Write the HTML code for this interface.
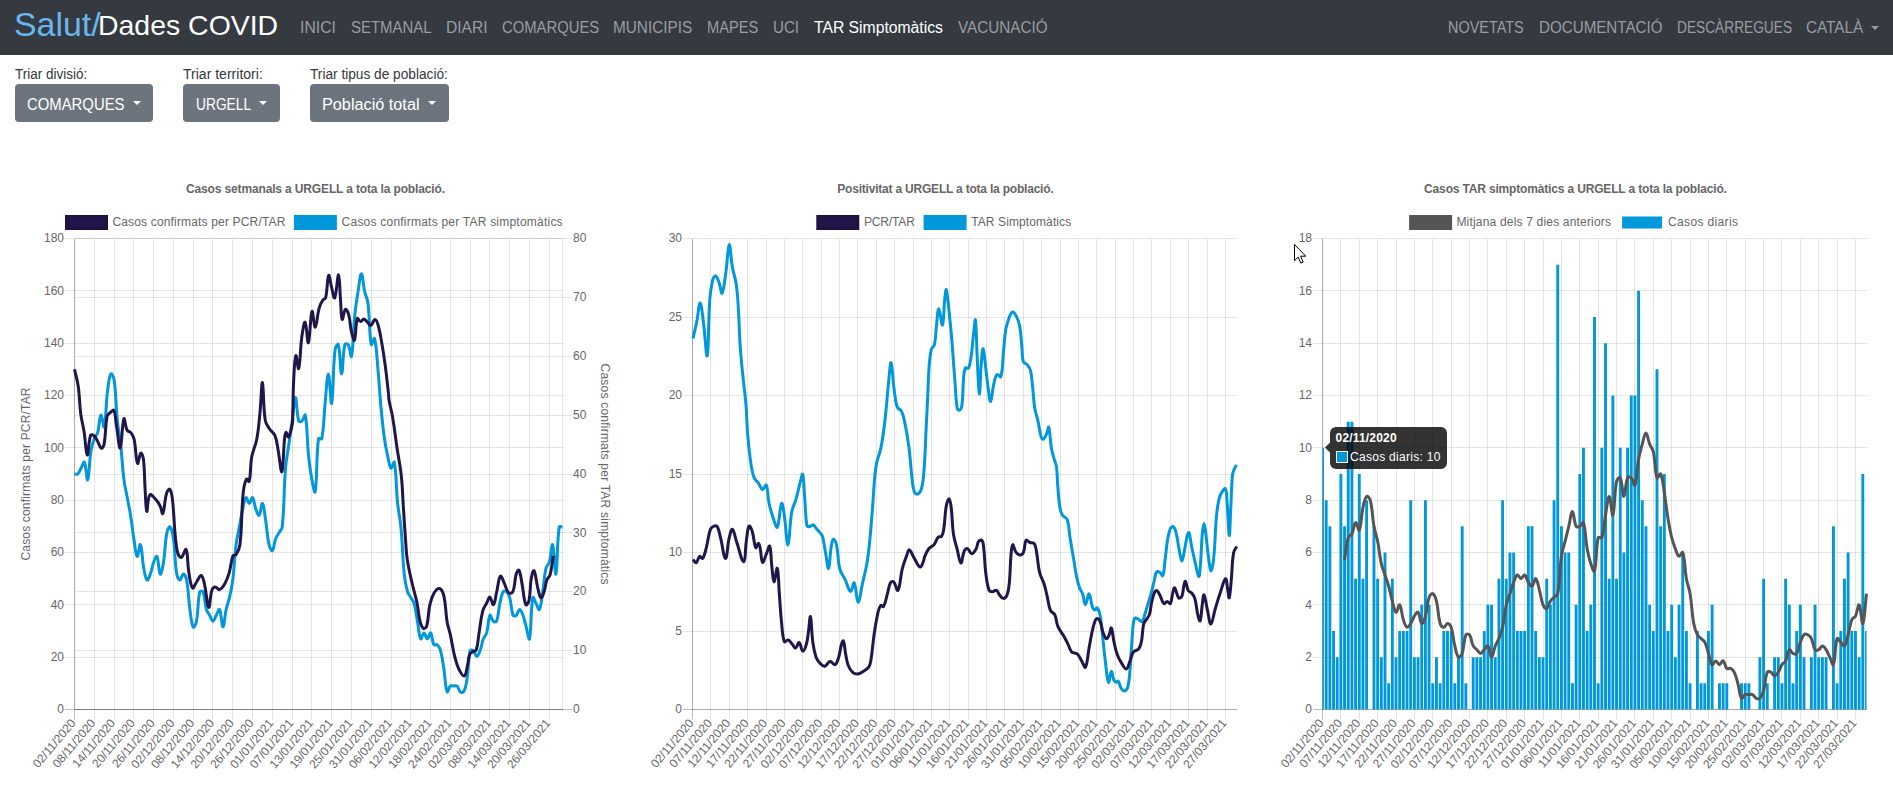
<!DOCTYPE html>
<html lang="ca"><head><meta charset="utf-8"><title>Dades COVID - TAR Simptomàtics</title>
<style>
html,body{margin:0;padding:0;background:#fff;}
body{width:1893px;height:789px;position:relative;overflow:hidden;font-family:"Liberation Sans",Arial,sans-serif;}
#nav{position:absolute;left:0;top:0;width:1893px;height:55px;background:#343a40;}
span{position:absolute;white-space:nowrap;line-height:1;transform-origin:0 0;}
.btn{position:absolute;top:84px;height:38px;background:#6c757d;border-radius:4px;}
.caret{position:absolute;width:0;height:0;border-left:4px solid transparent;border-right:4px solid transparent;border-top:4px solid #fff;}
</style></head><body>
<div id="nav"></div>
<div class="btn" style="left:15px;width:138px"></div>
<div class="btn" style="left:183px;width:97px"></div>
<div class="btn" style="left:310px;width:139px"></div>
<div class="caret" style="left:132.5px;top:101px"></div>
<div class="caret" style="left:259px;top:101px"></div>
<div class="caret" style="left:428px;top:101px"></div>
<div class="caret" style="left:1870.5px;top:26px;border-top-color:#9a9da0"></div>
<span id="t0" style="left:14.26px;top:6.62px;font-size:34px;color:#6ab5f0;transform:scaleX(0.9957)">Salut/</span>
<span id="t1" style="left:97.92px;top:11.7px;font-size:28px;color:#ffffff;transform:scaleX(1.0155)">Dades COVID</span>
<span id="t2" style="left:300.24px;top:19.96px;font-size:16px;color:#9a9da0;transform:scaleX(0.9854)">INICI</span>
<span id="t3" style="left:350.94px;top:19.96px;font-size:16px;color:#9a9da0;transform:scaleX(0.9336)">SETMANAL</span>
<span id="t4" style="left:446.24px;top:19.96px;font-size:16px;color:#9a9da0;transform:scaleX(0.9730)">DIARI</span>
<span id="t5" style="left:501.94px;top:19.96px;font-size:16px;color:#9a9da0;transform:scaleX(0.9267)">COMARQUES</span>
<span id="t6" style="left:613.34px;top:19.96px;font-size:16px;color:#9a9da0;transform:scaleX(0.9582)">MUNICIPIS</span>
<span id="t7" style="left:707.14px;top:19.96px;font-size:16px;color:#9a9da0;transform:scaleX(0.9126)">MAPES</span>
<span id="t8" style="left:773.44px;top:19.96px;font-size:16px;color:#9a9da0;transform:scaleX(0.9440)">UCI</span>
<span id="t9" style="left:814.04px;top:19.96px;font-size:16px;color:#ffffff;transform:scaleX(0.9820)">TAR Simptomàtics</span>
<span id="t10" style="left:957.54px;top:19.96px;font-size:16px;color:#9a9da0;transform:scaleX(0.9530)">VACUNACIÓ</span>
<span id="t11" style="left:1448.24px;top:19.96px;font-size:16px;color:#9a9da0;transform:scaleX(0.9017)">NOVETATS</span>
<span id="t12" style="left:1538.84px;top:19.96px;font-size:16px;color:#9a9da0;transform:scaleX(0.9474)">DOCUMENTACIÓ</span>
<span id="t13" style="left:1676.84px;top:19.96px;font-size:16px;color:#9a9da0;transform:scaleX(0.8568)">DESCÀRREGUES</span>
<span id="t14" style="left:1806.34px;top:19.96px;font-size:16px;color:#9a9da0;transform:scaleX(0.9557)">CATALÀ</span>
<span id="t15" style="left:14.86px;top:66.75px;font-size:14px;color:#33383d;transform:scaleX(0.9632)">Triar divisió:</span>
<span id="t16" style="left:182.96px;top:66.75px;font-size:14px;color:#33383d;transform:scaleX(1.0023)">Triar territori:</span>
<span id="t17" style="left:309.76px;top:66.75px;font-size:14px;color:#33383d;transform:scaleX(0.9771)">Triar tipus de població:</span>
<span id="t18" style="left:26.94px;top:96.76px;font-size:16px;color:#ffffff;transform:scaleX(0.9296)">COMARQUES</span>
<span id="t19" style="left:195.54px;top:96.76px;font-size:16px;color:#ffffff;transform:scaleX(0.8608)">URGELL</span>
<span id="t20" style="left:322.34px;top:96.76px;font-size:16px;color:#ffffff;transform:scaleX(1.0152)">Població total</span>
<svg width="1893" height="789" viewBox="0 0 1893 789" style="position:absolute;left:0;top:0" font-family="'Liberation Sans', Arial, sans-serif"><text x="315.5" y="192.7" text-anchor="middle" font-size="12" font-weight="bold" fill="#666666" textLength="259" lengthAdjust="spacing">Casos setmanals a URGELL a tota la població.</text>
<rect x="66.5" y="216.5" width="40" height="12" fill="#22154a" stroke="#1d1340" stroke-width="3"/>
<text x="112.4" y="226" text-anchor="start" font-size="12" fill="#666666" textLength="173" lengthAdjust="spacing">Casos confirmats per PCR/TAR</text>
<rect x="295.4" y="216.5" width="40" height="12" fill="#0098db" stroke="#0098db" stroke-width="3"/>
<text x="341.6" y="226" text-anchor="start" font-size="12" fill="#666666" textLength="221" lengthAdjust="spacing">Casos confirmats per TAR simptomàtics</text>
<text x="64" y="242.2" text-anchor="end" font-size="12" fill="#666666">180</text>
<text x="64" y="294.53" text-anchor="end" font-size="12" fill="#666666">160</text>
<text x="64" y="346.87" text-anchor="end" font-size="12" fill="#666666">140</text>
<text x="64" y="399.2" text-anchor="end" font-size="12" fill="#666666">120</text>
<text x="64" y="451.53" text-anchor="end" font-size="12" fill="#666666">100</text>
<text x="64" y="503.87" text-anchor="end" font-size="12" fill="#666666">80</text>
<text x="64" y="556.2" text-anchor="end" font-size="12" fill="#666666">60</text>
<text x="64" y="608.53" text-anchor="end" font-size="12" fill="#666666">40</text>
<text x="64" y="660.87" text-anchor="end" font-size="12" fill="#666666">20</text>
<text x="64" y="713.2" text-anchor="end" font-size="12" fill="#666666">0</text>
<text x="573" y="242.2" text-anchor="start" font-size="12" fill="#666666">80</text>
<text x="573" y="301.07" text-anchor="start" font-size="12" fill="#666666">70</text>
<text x="573" y="359.95" text-anchor="start" font-size="12" fill="#666666">60</text>
<text x="573" y="418.82" text-anchor="start" font-size="12" fill="#666666">50</text>
<text x="573" y="477.7" text-anchor="start" font-size="12" fill="#666666">40</text>
<text x="573" y="536.58" text-anchor="start" font-size="12" fill="#666666">30</text>
<text x="573" y="595.45" text-anchor="start" font-size="12" fill="#666666">20</text>
<text x="573" y="654.33" text-anchor="start" font-size="12" fill="#666666">10</text>
<text x="573" y="713.2" text-anchor="start" font-size="12" fill="#666666">0</text>
<text transform="translate(73,720.5) rotate(-50)" text-anchor="end" font-size="12" fill="#666666" dy="4.3">02/11/2020</text>
<text transform="translate(92.78,720.5) rotate(-50)" text-anchor="end" font-size="12" fill="#666666" dy="4.3">08/11/2020</text>
<text transform="translate(112.57,720.5) rotate(-50)" text-anchor="end" font-size="12" fill="#666666" dy="4.3">14/11/2020</text>
<text transform="translate(132.35,720.5) rotate(-50)" text-anchor="end" font-size="12" fill="#666666" dy="4.3">20/11/2020</text>
<text transform="translate(152.14,720.5) rotate(-50)" text-anchor="end" font-size="12" fill="#666666" dy="4.3">26/11/2020</text>
<text transform="translate(171.92,720.5) rotate(-50)" text-anchor="end" font-size="12" fill="#666666" dy="4.3">02/12/2020</text>
<text transform="translate(191.7,720.5) rotate(-50)" text-anchor="end" font-size="12" fill="#666666" dy="4.3">08/12/2020</text>
<text transform="translate(211.49,720.5) rotate(-50)" text-anchor="end" font-size="12" fill="#666666" dy="4.3">14/12/2020</text>
<text transform="translate(231.27,720.5) rotate(-50)" text-anchor="end" font-size="12" fill="#666666" dy="4.3">20/12/2020</text>
<text transform="translate(251.05,720.5) rotate(-50)" text-anchor="end" font-size="12" fill="#666666" dy="4.3">26/12/2020</text>
<text transform="translate(270.84,720.5) rotate(-50)" text-anchor="end" font-size="12" fill="#666666" dy="4.3">01/01/2021</text>
<text transform="translate(290.62,720.5) rotate(-50)" text-anchor="end" font-size="12" fill="#666666" dy="4.3">07/01/2021</text>
<text transform="translate(310.41,720.5) rotate(-50)" text-anchor="end" font-size="12" fill="#666666" dy="4.3">13/01/2021</text>
<text transform="translate(330.19,720.5) rotate(-50)" text-anchor="end" font-size="12" fill="#666666" dy="4.3">19/01/2021</text>
<text transform="translate(349.97,720.5) rotate(-50)" text-anchor="end" font-size="12" fill="#666666" dy="4.3">25/01/2021</text>
<text transform="translate(369.76,720.5) rotate(-50)" text-anchor="end" font-size="12" fill="#666666" dy="4.3">31/01/2021</text>
<text transform="translate(389.54,720.5) rotate(-50)" text-anchor="end" font-size="12" fill="#666666" dy="4.3">06/02/2021</text>
<text transform="translate(409.32,720.5) rotate(-50)" text-anchor="end" font-size="12" fill="#666666" dy="4.3">12/02/2021</text>
<text transform="translate(429.11,720.5) rotate(-50)" text-anchor="end" font-size="12" fill="#666666" dy="4.3">18/02/2021</text>
<text transform="translate(448.89,720.5) rotate(-50)" text-anchor="end" font-size="12" fill="#666666" dy="4.3">24/02/2021</text>
<text transform="translate(468.68,720.5) rotate(-50)" text-anchor="end" font-size="12" fill="#666666" dy="4.3">02/03/2021</text>
<text transform="translate(488.46,720.5) rotate(-50)" text-anchor="end" font-size="12" fill="#666666" dy="4.3">08/03/2021</text>
<text transform="translate(508.24,720.5) rotate(-50)" text-anchor="end" font-size="12" fill="#666666" dy="4.3">14/03/2021</text>
<text transform="translate(528.03,720.5) rotate(-50)" text-anchor="end" font-size="12" fill="#666666" dy="4.3">20/03/2021</text>
<text transform="translate(547.81,720.5) rotate(-50)" text-anchor="end" font-size="12" fill="#666666" dy="4.3">26/03/2021</text>
<g fill="none" stroke-width="1" shape-rendering="crispEdges"><path d="M64.5,238.5H562.5" stroke="rgba(0,0,0,0.1)"/><path d="M64.5,290.83H562.5" stroke="rgba(0,0,0,0.1)"/><path d="M64.5,343.17H562.5" stroke="rgba(0,0,0,0.1)"/><path d="M64.5,395.5H562.5" stroke="rgba(0,0,0,0.1)"/><path d="M64.5,447.83H562.5" stroke="rgba(0,0,0,0.1)"/><path d="M64.5,500.17H562.5" stroke="rgba(0,0,0,0.1)"/><path d="M64.5,552.5H562.5" stroke="rgba(0,0,0,0.1)"/><path d="M64.5,604.83H562.5" stroke="rgba(0,0,0,0.1)"/><path d="M64.5,657.17H562.5" stroke="rgba(0,0,0,0.1)"/><path d="M64.5,709.5H562.5" stroke="rgba(0,0,0,0.25)"/><path d="M74.5,238.5H571.5" stroke="rgba(0,0,0,0.1)"/><path d="M74.5,297.38H571.5" stroke="rgba(0,0,0,0.1)"/><path d="M74.5,356.25H571.5" stroke="rgba(0,0,0,0.1)"/><path d="M74.5,415.12H571.5" stroke="rgba(0,0,0,0.1)"/><path d="M74.5,474H571.5" stroke="rgba(0,0,0,0.1)"/><path d="M74.5,532.88H571.5" stroke="rgba(0,0,0,0.1)"/><path d="M74.5,591.75H571.5" stroke="rgba(0,0,0,0.1)"/><path d="M74.5,650.62H571.5" stroke="rgba(0,0,0,0.1)"/><path d="M74.5,709.5H571.5" stroke="rgba(0,0,0,0.25)"/><path d="M74.5,238.5V719.5" stroke="rgba(0,0,0,0.25)"/><path d="M94.28,238.5V719.5" stroke="rgba(0,0,0,0.1)"/><path d="M114.07,238.5V719.5" stroke="rgba(0,0,0,0.1)"/><path d="M133.85,238.5V719.5" stroke="rgba(0,0,0,0.1)"/><path d="M153.64,238.5V719.5" stroke="rgba(0,0,0,0.1)"/><path d="M173.42,238.5V719.5" stroke="rgba(0,0,0,0.1)"/><path d="M193.2,238.5V719.5" stroke="rgba(0,0,0,0.1)"/><path d="M212.99,238.5V719.5" stroke="rgba(0,0,0,0.1)"/><path d="M232.77,238.5V719.5" stroke="rgba(0,0,0,0.1)"/><path d="M252.55,238.5V719.5" stroke="rgba(0,0,0,0.1)"/><path d="M272.34,238.5V719.5" stroke="rgba(0,0,0,0.1)"/><path d="M292.12,238.5V719.5" stroke="rgba(0,0,0,0.1)"/><path d="M311.91,238.5V719.5" stroke="rgba(0,0,0,0.1)"/><path d="M331.69,238.5V719.5" stroke="rgba(0,0,0,0.1)"/><path d="M351.47,238.5V719.5" stroke="rgba(0,0,0,0.1)"/><path d="M371.26,238.5V719.5" stroke="rgba(0,0,0,0.1)"/><path d="M391.04,238.5V719.5" stroke="rgba(0,0,0,0.1)"/><path d="M410.82,238.5V719.5" stroke="rgba(0,0,0,0.1)"/><path d="M430.61,238.5V719.5" stroke="rgba(0,0,0,0.1)"/><path d="M450.39,238.5V719.5" stroke="rgba(0,0,0,0.1)"/><path d="M470.18,238.5V719.5" stroke="rgba(0,0,0,0.1)"/><path d="M489.96,238.5V719.5" stroke="rgba(0,0,0,0.1)"/><path d="M509.74,238.5V719.5" stroke="rgba(0,0,0,0.1)"/><path d="M529.53,238.5V719.5" stroke="rgba(0,0,0,0.1)"/><path d="M549.31,238.5V719.5" stroke="rgba(0,0,0,0.1)"/><path d="M74.5,238.5V709.5" stroke="rgba(0,0,0,0.1)"/><path d="M74.5,709.5H562.5" stroke="rgba(0,0,0,0.1)"/><path d="M562.5,238.5V709.5" stroke="rgba(0,0,0,0.1)"/></g>
<text transform="translate(26,474) rotate(-90)" text-anchor="middle" font-size="12" fill="#666666" dy="4.3" textLength="173" lengthAdjust="spacing">Casos confirmats per PCR/TAR</text>
<text transform="translate(605.7,474) rotate(90)" text-anchor="middle" font-size="12" fill="#666666" dy="4.3" textLength="221" lengthAdjust="spacing">Casos confirmats per TAR simptomàtics</text>
<path d="M74.5,474C75.82,474 76.93,474.77 77.8,474C79.57,472.42 79.78,470.47 81.09,468.11C82.41,465.76 83.67,460.94 84.39,462.23C86.31,465.65 86.69,481.67 87.69,479.89C89.33,476.96 89.12,462.12 90.99,450.45C91.76,445.63 92.58,443.23 94.28,438.68C95.22,436.16 96.86,435.36 97.58,432.79C99.5,425.94 99.31,416.53 100.88,415.12C101.95,414.17 103.5,429.31 104.18,426.9C106.14,419.89 105.72,405.64 107.47,391.57C108.36,384.45 108.85,377.34 110.77,373.91C111.49,372.63 113.7,377.16 114.07,379.8C116.34,396 115.69,404.57 117.36,421.01C118.33,430.47 119.6,435.11 120.66,444.56C122.24,458.66 122.21,465.82 123.96,479.89C124.85,487.01 125.94,490.48 127.26,497.55C128.58,504.61 129.42,508.12 130.55,515.21C132.06,524.6 132.35,529.37 133.85,538.76C134.99,545.86 135.58,555.02 137.15,556.42C138.22,557.38 139.55,543.05 140.45,544.65C142.19,547.76 142,558.87 143.74,568.2C144.64,573 145.34,578.46 147.04,579.98C147.98,580.81 149.4,576.6 150.34,574.09C152.04,569.53 151.94,566.87 153.64,562.31C154.57,559.8 156.21,555.14 156.93,556.42C158.85,559.85 158.66,572.69 160.23,574.09C161.3,575.04 162.76,567.13 163.53,562.31C165.39,550.64 164.68,544.38 166.82,532.88C167.31,530.25 169.18,526.15 170.12,526.99C171.82,528.51 172.74,533.93 173.42,538.76C175.38,552.77 174.5,560.24 176.72,574.09C177.14,576.72 178.69,579.98 180.01,579.98C181.33,579.98 181.99,574.09 183.31,574.09C184.63,574.09 186.12,577.35 186.61,579.98C188.76,591.48 188.26,597.69 189.91,609.41C190.9,616.53 191.29,623.65 193.2,627.08C193.92,628.36 196.01,623.81 196.5,621.19C198.65,609.68 197.42,602.35 199.8,591.75C200.06,590.57 202.69,590.65 203.09,591.75C205.32,597.72 204.47,602.56 206.39,609.41C207.11,611.98 208.37,612.94 209.69,615.3C211.01,617.65 211.67,621.19 212.99,621.19C214.31,621.19 214.96,617.65 216.28,615.3C217.6,612.94 218.86,608.13 219.58,609.41C221.5,612.84 221.56,627.08 222.88,627.08C224.2,627.08 224.61,616.42 226.18,609.41C227.24,604.64 228.4,602.41 229.47,597.64C231.04,590.63 231.88,587.1 232.77,579.98C234.52,565.91 234.32,558.72 236.07,544.65C236.95,537.52 238.05,534.05 239.36,526.99C240.68,519.92 241.09,516.33 242.66,509.32C243.73,504.56 244.26,499.07 245.96,497.55C246.9,496.71 247.94,503.44 249.26,503.44C250.58,503.44 251.62,496.71 252.55,497.55C254.25,499.07 254.15,504.77 255.85,509.32C256.79,511.84 258.21,516.05 259.15,515.21C260.85,513.69 261.38,502.48 262.45,503.44C264.02,504.84 264.61,514.01 265.74,521.1C267.25,530.49 266.99,535.48 269.04,544.65C269.62,547.25 271.4,551.37 272.34,550.54C274.04,549.02 273.94,543.32 275.64,538.76C276.57,536.25 277.61,535.23 278.93,532.88C280.25,530.52 281.96,529.65 282.23,526.99C284.6,503.74 283.65,491.61 285.53,468.11C286.29,458.64 287.51,453.98 288.82,444.56C290.14,435.14 290.8,430.43 292.12,421.01C293.44,411.59 294.1,397.46 295.42,397.46C296.74,397.46 296.4,412.74 298.72,421.01C299.04,422.16 301.15,421.79 302.01,421.01C303.79,419.43 304.94,413.14 305.31,415.12C307.58,427.27 306.93,439.89 308.61,456.34C309.57,465.8 310.16,470.56 311.91,479.89C312.8,484.69 314.71,494.75 315.2,491.66C317.35,478.26 316.02,458.63 318.5,438.68C318.65,437.44 321.57,439.88 321.8,438.68C324.21,425.75 323.66,417.47 325.09,403.35C326.29,391.56 327.07,373.91 328.39,373.91C329.71,373.91 330.74,406.72 331.69,403.35C333.38,397.3 332.65,371.26 334.99,350.36C335.28,347.71 337.79,342.73 338.28,344.47C340.43,352.15 340.26,373.91 341.58,373.91C342.9,373.91 342.5,355.07 344.88,344.47C345.14,343.3 347.62,343.47 348.18,344.47C350.25,348.18 350.87,358.94 351.47,356.25C353.51,347.16 353.1,331.48 354.77,315.04C355.73,305.58 356.57,300.88 358.07,291.49C359.2,284.39 360.05,273.82 361.36,273.82C362.68,273.82 363.09,284.48 364.66,291.49C365.73,296.26 367.36,298.42 367.96,303.26C370,319.62 368.99,332.33 371.26,344.47C371.63,346.46 374.06,336.84 374.55,338.59C376.7,346.26 376.75,356.23 377.85,368.02C379.39,384.49 379.61,392.77 381.15,409.24C382.25,421.03 382.8,426.95 384.45,438.68C385.44,445.79 386.17,449.33 387.74,456.34C388.81,461.11 389.34,466.59 391.04,468.11C391.98,468.95 393.97,460.24 394.34,462.23C396.61,474.37 395.96,486.99 397.64,503.44C398.6,512.9 400.05,517.52 400.93,526.99C402.69,545.78 402.32,555.32 404.23,574.09C404.96,581.23 405.61,584.9 407.53,591.75C408.25,594.32 409.51,595.28 410.82,597.64C412.14,599.99 413.4,600.95 414.12,603.52C416.04,610.37 416.1,614.12 417.42,621.19C418.74,628.25 418.8,635.43 420.72,638.85C421.44,640.14 422.69,632.96 424.01,632.96C425.33,632.96 425.99,638.85 427.31,638.85C428.63,638.85 429.67,632.13 430.61,632.96C432.31,634.48 431.83,641.03 433.91,644.74C434.47,645.74 436.34,643.96 437.2,644.74C438.97,646.32 439.78,648.05 440.5,650.62C442.42,657.47 442.66,661.19 443.8,668.29C445.3,677.68 445.04,686.33 447.09,691.84C447.68,693.4 448.62,687.53 450.39,685.95C451.26,685.18 452.37,685.95 453.69,685.95C455.01,685.95 456.12,685.18 456.99,685.95C458.76,687.53 458.51,690.26 460.28,691.84C461.15,692.61 463.02,692.84 463.58,691.84C465.66,688.13 466.11,684.88 466.88,680.06C468.75,668.39 467.8,661.22 470.18,650.62C470.44,649.45 472.61,649.85 473.47,650.62C475.24,652.21 475.45,656.51 476.77,656.51C478.09,656.51 479.13,653.14 480.07,650.62C481.77,646.07 481.67,643.4 483.36,638.85C484.3,636.34 485.94,635.53 486.66,632.96C488.58,626.11 488.04,618.72 489.96,615.3C490.68,614.01 491.48,619.61 493.26,621.19C494.12,621.96 496.15,622.28 496.55,621.19C498.78,615.22 498.28,610.53 499.85,603.52C500.92,598.76 501.07,595.46 503.15,591.75C503.71,590.75 505.58,590.98 506.45,591.75C508.22,593.33 509.02,595.07 509.74,597.64C511.66,604.49 510.81,609.33 513.04,615.3C513.45,616.4 515.47,616.07 516.34,615.3C518.11,613.72 518.32,609.41 519.64,609.41C520.95,609.41 521.99,612.79 522.93,615.3C524.63,619.85 524.91,622.37 526.23,627.08C527.55,631.79 528.92,641.54 529.53,638.85C531.56,629.76 530.56,609.78 532.82,597.64C533.19,595.65 534.8,601.17 536.12,603.52C537.44,605.88 538.7,610.7 539.42,609.41C541.34,605.99 541.58,598.84 542.72,591.75C544.22,582.36 543.96,577.37 546.01,568.2C546.6,565.6 548.59,564.88 549.31,562.31C551.23,555.46 551.61,542.87 552.61,544.65C554.25,547.58 554.89,576.81 555.91,574.09C557.53,569.75 556.74,544.6 559.2,526.99C559.37,525.76 561.18,526.99 562.5,526.99" fill="none" stroke="#0098db" stroke-width="3" stroke-linejoin="miter"/>
<path d="M74.5,369.45C75.98,376.09 77.25,379.32 78.19,386.05C79.76,397.17 79.34,402.92 80.78,414.07C81.67,421.02 82.92,424.38 84.01,431.31C85.5,440.77 85.83,454.08 87.25,455.03C88.41,455.8 88.37,442.56 90.48,435.63C90.78,434.63 92.45,434.64 93.28,435.2C95.04,436.37 95.69,437.9 96.95,439.94C98.88,443.08 99.38,446.99 101.26,448.13C102.23,448.72 103.72,446.1 104.06,444.25C106.05,433.34 105.06,427.08 107.08,416.23C107.38,414.58 108.6,414.11 109.88,412.99C111.27,411.78 113.14,409.26 113.76,410.41C115.72,414 115.35,419.06 116.35,424.85C117.94,434.15 118.89,449.2 120.23,448.13C121.9,446.79 121.92,423.92 123.89,418.81C124.68,416.76 125.11,426.2 127.12,430.24C127.87,431.72 129.73,431.29 130.79,432.61C132.49,434.74 133.42,436.14 134.02,438.86C136.13,448.44 135.65,459.34 137.54,463.36C138.36,465.09 139.29,454.45 140.78,453.23C141.62,452.55 143.08,456.27 143.36,458.62C144.8,470.5 144.3,476.74 145.09,488.8C145.68,497.86 145.73,510.05 146.81,511.44C147.62,512.46 147.34,498.1 149.83,494.84C150.96,493.35 153.81,497.35 155.87,499.58C157.95,501.84 158.82,503.28 160.18,506.05C161.58,508.89 162.05,515.02 162.77,513.59C164.64,509.85 164.36,500.96 166.65,493.11C167.2,491.21 169.13,488.4 169.88,489.23C171.46,490.99 171.98,495.35 172.47,499.58C174.14,514.15 173.81,521.61 175.27,536.23C175.96,543.16 175.99,546.96 177.86,553.47C178.41,555.41 180.11,557.91 181.3,557.35C183.39,556.36 185.17,547.99 186.05,549.59C188.1,553.34 187.22,562.33 188.63,570.72C189.81,577.68 190.24,584.97 192.51,587.96C193.51,589.28 195.06,584.05 196.82,581.49C198.51,579.05 199.76,575.06 201.14,575.46C202.77,575.93 203.56,580.23 204.37,583.65C206.58,593 206.93,605.86 208.68,607.36C209.95,608.45 209.86,596.61 211.91,590.12C212.45,588.42 213.73,586.96 215.15,586.88C216.75,586.79 217.95,590.19 219.46,589.69C221.83,588.89 223.25,586.41 224.85,583.65C227.13,579.69 227.86,577.31 229.16,572.87C231.14,566.11 230.7,561.78 233.04,555.63C233.46,554.53 235.43,555.75 236.06,554.76C238.19,551.43 239.45,549.05 239.94,544.85C242.3,524.39 241.15,513.7 243.17,493.11C243.73,487.4 244.47,482.91 246.4,479.1C246.88,478.17 248.94,482.38 249.21,481.26C251.05,473.54 249.97,466.57 251.69,457C252.95,449.97 255.31,446.79 256.65,439.76C258.59,429.54 258.82,424.26 259.88,413.89C261.15,401.41 261.49,381.46 262.47,382.63C263.64,384.05 263,405.58 265.27,420.36C265.85,424.12 267.51,425.76 269.58,428.98C271.39,431.79 273.75,432.4 274.97,435.45C277.2,441.03 277.05,444.47 278.2,450.54C279.81,458.96 280.87,473.66 281.87,471.66C283.46,468.48 283.19,451.16 284.67,437.6C284.91,435.38 285.39,432.3 286.18,432.21C286.95,432.13 287.83,438.07 288.55,437.17C290.25,435.05 291.01,429.72 292.21,424.67C292.64,422.88 292.57,421.92 292.63,420.08C293.17,403.79 292.9,395.61 293.71,379.34C294.19,369.83 294.59,358.4 295.87,355.63C296.58,354.09 297.97,370.81 298.67,368.56C300.39,363.05 300.11,349.08 301.9,336.23C302.7,330.54 304.08,321.15 305.14,322.21C306.66,323.74 307.27,344.4 308.37,342.69C310.03,340.09 310.21,315.55 312.03,311.44C312.97,309.34 313.98,327.76 315.27,327.17C316.82,326.46 317.09,315.63 319.15,308.2C320.1,304.76 320.96,302.98 322.81,300.01C323.54,298.84 325.3,299.18 325.62,297.86C327.63,289.35 327.09,278.4 328.63,275.44C329.42,273.92 330.23,282.18 331.44,286.65C332.65,291.15 333.72,299.43 334.67,297.86C336.57,294.69 337.42,274.46 338.55,274.79C339.75,275.15 339.68,289.67 340.49,299.58C341.14,307.52 340.92,316.88 342.21,319.41C342.9,320.76 343.82,310.47 345.45,309.28C346.41,308.58 348.04,312.27 348.68,314.67C350.46,321.33 349.93,325.13 351.48,331.91C352.26,335.3 353.83,341.64 354.5,340.11C356.16,336.29 355.3,324.71 357.3,318.55C357.71,317.3 359.2,321.48 360.54,321.57C361.79,321.65 362.5,318.86 363.77,318.98C365.26,319.12 365.99,320.9 367.43,322.21C368.83,323.49 369.7,325.89 370.88,325.45C372.71,324.77 373.47,319.41 374.98,319.41C376.4,319.41 377.48,322.83 378.21,325.45C380.33,333.01 380.74,337.05 382.09,344.85C383.58,353.44 384.2,357.76 385.33,366.4C386.79,377.59 387.34,383.21 388.56,394.43C388.8,396.65 388.58,397.8 388.97,400C390.21,406.93 391.47,410.29 392.63,417.25C394.66,429.26 395.16,435.36 396.95,447.42C398.61,458.64 400.05,464.18 401.26,475.45C402.64,488.32 402.55,494.85 403.41,507.78C404.27,520.72 404.61,527.19 405.57,540.12C406.14,547.84 406.12,551.75 407.25,559.4C408.52,568.09 409.63,572.38 411.56,580.96C413.51,589.63 415.12,593.82 416.95,602.51C418.56,610.21 418.29,614.35 420.18,621.91C420.87,624.7 421.73,627.26 423.41,628.38C424.32,628.98 426.25,627.66 426.65,626.23C428.84,618.18 427.97,613.13 429.88,604.67C430.99,599.77 431.68,596.99 434.19,592.81C435.56,590.53 437.86,587.93 439.58,588.5C441.74,589.22 443.14,592.71 443.89,596.05C446.15,606.07 445.41,611.65 447.12,621.91C448,627.17 449.22,629.64 450.36,634.85C452.24,643.44 452.54,647.89 454.67,656.4C455.99,661.69 456.58,664.54 458.98,669.34C460.46,672.3 462.89,676.54 464.37,675.81C466.34,674.82 466.51,669.39 467.6,665.03C468.67,660.77 468.19,658.13 469.76,654.25C470.35,652.79 471.62,652.58 472.99,651.66C474.21,650.85 475.78,651.24 476.23,649.94C478.1,644.51 477.81,640.89 478.81,634.85C480.39,625.37 480.35,620.37 482.69,611.14C483.63,607.43 485.26,605.95 487,602.51C488.1,600.35 488.72,596.76 489.81,597.12C491.31,597.62 492.41,605.5 493.47,604.67C495.16,603.35 495.45,596.92 496.7,591.74C498.21,585.54 498.35,578.52 500.37,576.21C501.37,575.07 502.85,580.28 504.25,583.11C506.13,586.92 506.13,590.38 508.56,592.81C509.58,593.83 512.26,593.22 512.87,591.74C515.28,585.89 514.24,581.16 516.1,574.49C516.65,572.54 518.26,569.22 518.91,570.18C520.59,572.67 520.88,577.91 521.92,583.11C523.64,591.7 523.52,599.13 525.81,604.67C526.37,606.03 528.61,602.42 529.04,600.36C530.76,592.07 529.78,587.3 531.19,578.8C531.76,575.4 533.13,569.46 534,570.61C535.72,572.9 535.97,580.76 537.66,587.42C538.73,591.62 539.31,596.71 540.89,597.77C541.9,598.44 543.27,594.31 544.13,591.74C545.67,587.14 545.3,584.4 546.89,579.85C547.68,577.62 549.46,577.06 550.06,574.78C552,567.43 551.96,563.37 553.23,555.77" fill="none" stroke="#22154a" stroke-width="3"/>
<text x="945.5" y="192.7" text-anchor="middle" font-size="12" font-weight="bold" fill="#666666" textLength="216.4" lengthAdjust="spacing">Positivitat a URGELL a tota la població.</text>
<rect x="817.8" y="216.5" width="40" height="12" fill="#22154a" stroke="#1d1340" stroke-width="3"/>
<text x="863.9" y="226" text-anchor="start" font-size="12" fill="#666666" textLength="51" lengthAdjust="spacing">PCR/TAR</text>
<rect x="925.1" y="216.5" width="40" height="12" fill="#0098db" stroke="#0098db" stroke-width="3"/>
<text x="971.2" y="226" text-anchor="start" font-size="12" fill="#666666" textLength="100" lengthAdjust="spacing">TAR Simptomàtics</text>
<text x="682" y="242.2" text-anchor="end" font-size="12" fill="#666666">30</text>
<text x="682" y="320.7" text-anchor="end" font-size="12" fill="#666666">25</text>
<text x="682" y="399.2" text-anchor="end" font-size="12" fill="#666666">20</text>
<text x="682" y="477.7" text-anchor="end" font-size="12" fill="#666666">15</text>
<text x="682" y="556.2" text-anchor="end" font-size="12" fill="#666666">10</text>
<text x="682" y="634.7" text-anchor="end" font-size="12" fill="#666666">5</text>
<text x="682" y="713.2" text-anchor="end" font-size="12" fill="#666666">0</text>
<text transform="translate(691,720.5) rotate(-50)" text-anchor="end" font-size="12" fill="#666666" dy="4.3">02/11/2020</text>
<text transform="translate(709.38,720.5) rotate(-50)" text-anchor="end" font-size="12" fill="#666666" dy="4.3">07/11/2020</text>
<text transform="translate(727.76,720.5) rotate(-50)" text-anchor="end" font-size="12" fill="#666666" dy="4.3">12/11/2020</text>
<text transform="translate(746.14,720.5) rotate(-50)" text-anchor="end" font-size="12" fill="#666666" dy="4.3">17/11/2020</text>
<text transform="translate(764.51,720.5) rotate(-50)" text-anchor="end" font-size="12" fill="#666666" dy="4.3">22/11/2020</text>
<text transform="translate(782.89,720.5) rotate(-50)" text-anchor="end" font-size="12" fill="#666666" dy="4.3">27/11/2020</text>
<text transform="translate(801.27,720.5) rotate(-50)" text-anchor="end" font-size="12" fill="#666666" dy="4.3">02/12/2020</text>
<text transform="translate(819.65,720.5) rotate(-50)" text-anchor="end" font-size="12" fill="#666666" dy="4.3">07/12/2020</text>
<text transform="translate(838.03,720.5) rotate(-50)" text-anchor="end" font-size="12" fill="#666666" dy="4.3">12/12/2020</text>
<text transform="translate(856.41,720.5) rotate(-50)" text-anchor="end" font-size="12" fill="#666666" dy="4.3">17/12/2020</text>
<text transform="translate(874.78,720.5) rotate(-50)" text-anchor="end" font-size="12" fill="#666666" dy="4.3">22/12/2020</text>
<text transform="translate(893.16,720.5) rotate(-50)" text-anchor="end" font-size="12" fill="#666666" dy="4.3">27/12/2020</text>
<text transform="translate(911.54,720.5) rotate(-50)" text-anchor="end" font-size="12" fill="#666666" dy="4.3">01/01/2021</text>
<text transform="translate(929.92,720.5) rotate(-50)" text-anchor="end" font-size="12" fill="#666666" dy="4.3">06/01/2021</text>
<text transform="translate(948.3,720.5) rotate(-50)" text-anchor="end" font-size="12" fill="#666666" dy="4.3">11/01/2021</text>
<text transform="translate(966.68,720.5) rotate(-50)" text-anchor="end" font-size="12" fill="#666666" dy="4.3">16/01/2021</text>
<text transform="translate(985.05,720.5) rotate(-50)" text-anchor="end" font-size="12" fill="#666666" dy="4.3">21/01/2021</text>
<text transform="translate(1003.43,720.5) rotate(-50)" text-anchor="end" font-size="12" fill="#666666" dy="4.3">26/01/2021</text>
<text transform="translate(1021.81,720.5) rotate(-50)" text-anchor="end" font-size="12" fill="#666666" dy="4.3">31/01/2021</text>
<text transform="translate(1040.19,720.5) rotate(-50)" text-anchor="end" font-size="12" fill="#666666" dy="4.3">05/02/2021</text>
<text transform="translate(1058.57,720.5) rotate(-50)" text-anchor="end" font-size="12" fill="#666666" dy="4.3">10/02/2021</text>
<text transform="translate(1076.95,720.5) rotate(-50)" text-anchor="end" font-size="12" fill="#666666" dy="4.3">15/02/2021</text>
<text transform="translate(1095.32,720.5) rotate(-50)" text-anchor="end" font-size="12" fill="#666666" dy="4.3">20/02/2021</text>
<text transform="translate(1113.7,720.5) rotate(-50)" text-anchor="end" font-size="12" fill="#666666" dy="4.3">25/02/2021</text>
<text transform="translate(1132.08,720.5) rotate(-50)" text-anchor="end" font-size="12" fill="#666666" dy="4.3">02/03/2021</text>
<text transform="translate(1150.46,720.5) rotate(-50)" text-anchor="end" font-size="12" fill="#666666" dy="4.3">07/03/2021</text>
<text transform="translate(1168.84,720.5) rotate(-50)" text-anchor="end" font-size="12" fill="#666666" dy="4.3">12/03/2021</text>
<text transform="translate(1187.22,720.5) rotate(-50)" text-anchor="end" font-size="12" fill="#666666" dy="4.3">17/03/2021</text>
<text transform="translate(1205.59,720.5) rotate(-50)" text-anchor="end" font-size="12" fill="#666666" dy="4.3">22/03/2021</text>
<text transform="translate(1223.97,720.5) rotate(-50)" text-anchor="end" font-size="12" fill="#666666" dy="4.3">27/03/2021</text>
<g fill="none" stroke-width="1" shape-rendering="crispEdges"><path d="M682.5,238.5H1236.5" stroke="rgba(0,0,0,0.1)"/><path d="M682.5,317H1236.5" stroke="rgba(0,0,0,0.1)"/><path d="M682.5,395.5H1236.5" stroke="rgba(0,0,0,0.1)"/><path d="M682.5,474H1236.5" stroke="rgba(0,0,0,0.1)"/><path d="M682.5,552.5H1236.5" stroke="rgba(0,0,0,0.1)"/><path d="M682.5,631H1236.5" stroke="rgba(0,0,0,0.1)"/><path d="M682.5,709.5H1236.5" stroke="rgba(0,0,0,0.25)"/><path d="M692.5,238.5V719.5" stroke="rgba(0,0,0,0.25)"/><path d="M710.88,238.5V719.5" stroke="rgba(0,0,0,0.1)"/><path d="M729.26,238.5V719.5" stroke="rgba(0,0,0,0.1)"/><path d="M747.64,238.5V719.5" stroke="rgba(0,0,0,0.1)"/><path d="M766.01,238.5V719.5" stroke="rgba(0,0,0,0.1)"/><path d="M784.39,238.5V719.5" stroke="rgba(0,0,0,0.1)"/><path d="M802.77,238.5V719.5" stroke="rgba(0,0,0,0.1)"/><path d="M821.15,238.5V719.5" stroke="rgba(0,0,0,0.1)"/><path d="M839.53,238.5V719.5" stroke="rgba(0,0,0,0.1)"/><path d="M857.91,238.5V719.5" stroke="rgba(0,0,0,0.1)"/><path d="M876.28,238.5V719.5" stroke="rgba(0,0,0,0.1)"/><path d="M894.66,238.5V719.5" stroke="rgba(0,0,0,0.1)"/><path d="M913.04,238.5V719.5" stroke="rgba(0,0,0,0.1)"/><path d="M931.42,238.5V719.5" stroke="rgba(0,0,0,0.1)"/><path d="M949.8,238.5V719.5" stroke="rgba(0,0,0,0.1)"/><path d="M968.18,238.5V719.5" stroke="rgba(0,0,0,0.1)"/><path d="M986.55,238.5V719.5" stroke="rgba(0,0,0,0.1)"/><path d="M1004.93,238.5V719.5" stroke="rgba(0,0,0,0.1)"/><path d="M1023.31,238.5V719.5" stroke="rgba(0,0,0,0.1)"/><path d="M1041.69,238.5V719.5" stroke="rgba(0,0,0,0.1)"/><path d="M1060.07,238.5V719.5" stroke="rgba(0,0,0,0.1)"/><path d="M1078.45,238.5V719.5" stroke="rgba(0,0,0,0.1)"/><path d="M1096.82,238.5V719.5" stroke="rgba(0,0,0,0.1)"/><path d="M1115.2,238.5V719.5" stroke="rgba(0,0,0,0.1)"/><path d="M1133.58,238.5V719.5" stroke="rgba(0,0,0,0.1)"/><path d="M1151.96,238.5V719.5" stroke="rgba(0,0,0,0.1)"/><path d="M1170.34,238.5V719.5" stroke="rgba(0,0,0,0.1)"/><path d="M1188.72,238.5V719.5" stroke="rgba(0,0,0,0.1)"/><path d="M1207.09,238.5V719.5" stroke="rgba(0,0,0,0.1)"/><path d="M1225.47,238.5V719.5" stroke="rgba(0,0,0,0.1)"/><path d="M692.5,238.5V709.5" stroke="rgba(0,0,0,0.1)"/><path d="M692.5,709.5H1236.5" stroke="rgba(0,0,0,0.1)"/></g>
<path d="M692.98,338.47C694.53,331.57 695.47,328.16 696.86,321.23C698.32,313.93 698.8,302.9 700.09,302.9C701.38,302.9 702.33,313.85 703.32,321.23C705.18,334.98 706.21,359.01 707.2,355.72C708.8,350.39 708.19,322.03 709.79,299.67C710.35,291.86 710.76,287.75 712.59,280.27C713.08,278.26 714.53,275.6 715.61,275.96C717.12,276.46 718.04,279.69 719.06,282.42C720.62,286.59 721.14,294.66 722.08,293.2C723.9,290.35 724.69,280.31 725.96,271.65C727.53,260.91 727.79,245.64 729.19,244.7C730.37,243.91 730.82,258.34 732.42,267.33C733.66,274.29 735.33,277.59 736.3,284.58C737.74,294.84 737.81,300.09 738.46,310.45C739.27,323.37 739.16,329.86 739.97,342.78C740.62,353.14 741.12,358.32 742.12,368.65C743.54,383.23 744.77,390.48 746,405.08C746.92,415.96 746.62,421.46 747.51,432.33C748.51,444.43 749.03,450.51 750.75,462.51C751.62,468.62 751.9,471.94 753.98,477.6C754.91,480.13 756.67,480.76 758.29,482.99C760.12,485.5 760.76,488.96 762.6,489.46C763.95,489.82 765.66,483.84 766.27,485.15C768.25,489.44 767.53,496.23 769.07,503.47C770.37,509.6 771.34,512.64 773.38,518.56C774.61,522.13 776.34,528.88 777.26,527.18C779.61,522.85 779.68,507.01 781.57,503.47C782.44,501.84 783.48,509.87 784.16,514.25C786.06,526.43 786.58,545.28 788.04,544.86C789.6,544.41 789.45,525.03 791.7,512.09C792.64,506.75 794.52,504.4 796.02,499.16C797.97,492.33 798.48,488.78 800.33,481.91C801.15,478.86 802.25,472.81 802.7,474.37C803.98,478.85 803.91,487.95 804.64,497C805.54,508.21 805.22,514.19 806.79,525.03C806.95,526.09 807.98,526.75 808.95,526.75C810.57,526.75 811.82,524.56 813.26,525.03C815.01,525.6 815.43,527.64 816.92,529.34C818.45,531.08 819.38,531.83 820.81,533.65C821.61,534.68 822.2,535.2 822.51,536.47C824.18,543.22 824.44,546.82 825.75,553.71C826.86,559.58 827.66,569.44 828.55,568.37C829.82,566.85 829.78,555.63 831.14,547.25C831.68,543.91 832.1,539.53 833.29,539.05C834.26,538.67 835.95,542.44 836.53,545.09C838.54,554.34 837.46,559.63 839.76,568.8C840.91,573.42 843.08,575.23 845.15,579.58C847.39,584.28 848.43,590.68 850.54,591.44C852.05,591.98 853.23,581.43 854.2,582.81C856.25,585.74 856.4,601.99 858.08,602.21C859.68,602.42 860.78,591.24 862.39,583.89C864.66,573.57 866.37,568.48 867.78,558.02C870.35,538.96 870.68,529.27 872.33,510.08C873.37,498.11 873.4,492.08 874.49,480.12C875.12,473.2 875.29,469.67 876.65,462.87C877.87,456.73 879.78,453.94 880.96,447.78C883.23,435.83 883.86,429.71 885.27,417.6C886.87,403.84 887.04,396.89 888.5,383.11C889.37,374.9 890.11,361.85 891.09,362.63C892.27,363.58 892.54,377.54 893.89,387.42C894.96,395.22 894.82,399.58 897.12,406.82C897.84,409.07 900.38,409.01 901.44,411.14C903.39,415.05 903.76,417.51 904.67,421.91C906.78,432.17 907.63,437.38 908.98,447.78C910.65,460.67 910.64,467.22 912.21,480.12C912.8,484.9 912.74,487.73 914.37,491.97C914.9,493.34 916.55,494.61 917.6,494.13C919.4,493.31 920.83,491.25 921.48,488.74C923.41,481.34 923.48,477.14 924.07,469.34C925.38,452.13 925.36,443.47 926.23,426.23C926.77,415.47 927.07,410.09 927.59,399.34C928.22,386.41 928.15,379.91 929.1,367C929.61,360.08 929.67,356.41 931.26,349.76C931.83,347.35 933.99,346.79 934.49,344.37C936.14,336.44 935.65,332.07 936.65,323.89C937.38,317.84 937.69,308.59 938.8,308.8C940.01,309.03 941.55,326.61 942.47,324.97C943.96,322.3 943.65,308.77 944.84,298.02C945.2,294.71 945.91,287.92 946.35,289.83C947.98,296.97 948.66,308.32 950.01,320.66C950.81,327.97 951.14,331.64 951.74,338.98C953.13,356.22 953.62,364.85 954.97,382.09C955.78,392.44 955.58,397.93 957.12,407.96C957.31,409.14 958.56,410.44 959.28,410.12C960.46,409.58 961.6,407.77 961.87,405.81C963.33,394.84 962.57,388.95 963.59,377.78C963.95,373.86 963.82,371 965.32,368.08C965.81,367.12 968.06,369.08 968.55,368.08C970.39,364.34 970.44,361.02 971.14,356.23C972.51,346.8 972.6,341.99 973.72,332.51C974.32,327.5 975.09,317.56 975.45,320.01C976.47,327.05 976.41,341.74 977.17,356.23C977.96,371.32 978.41,393.03 979.33,393.95C980.14,394.76 980.34,373.87 981.48,360.54C981.89,355.76 982.54,348.29 983.21,348.68C984,349.15 984.44,357.08 985.15,362.69C986.34,372.17 986.64,376.95 987.95,386.4C988.79,392.47 989.45,401.9 990.54,401.49C991.78,401.03 992.14,391.06 993.77,384.25C994.72,380.28 995.02,376.65 997,374.55C997.86,373.63 1000.49,378.07 1000.88,376.7C1003.08,369.02 1002.46,361.83 1003.47,351.91C1004.35,343.29 1004.25,338.89 1005.63,330.36C1006.41,325.52 1007.14,323.07 1008.86,318.5C1009.9,315.74 1010.83,312.52 1012.52,312.03C1013.85,311.66 1015.37,314.32 1016.4,316.35C1018.22,319.92 1018.9,322.05 1019.64,326.05C1021.05,333.69 1020.99,337.68 1021.79,345.45C1022.46,351.91 1021.66,355.7 1023.3,361.61C1023.81,363.46 1025.91,363.31 1027.18,364.85C1028.76,366.76 1029.82,367.84 1030.42,370.24C1031.97,376.46 1031.83,379.92 1032.57,386.4C1033.56,395.01 1033.39,399.42 1034.73,407.96C1035.55,413.22 1036.8,415.69 1037.96,420.89C1039.39,427.33 1039.37,430.88 1041.19,437.06C1041.53,438.21 1042.65,439.64 1043.35,439.22C1044.8,438.35 1045.55,436.1 1046.58,433.83C1047.7,431.36 1048.26,425.99 1048.74,427.36C1050.15,431.43 1049.97,439.45 1051.3,447.42C1052.03,451.79 1052.75,453.92 1053.89,458.2C1054.82,461.68 1055.99,463.28 1056.48,466.82C1057.54,474.49 1057.12,478.48 1057.77,486.23C1058.5,494.86 1058.54,499.27 1059.93,507.78C1060.44,510.91 1060.89,512.7 1062.51,515.33C1063.82,517.44 1066.48,517.31 1067.26,519.64C1069.5,526.37 1068.87,530.64 1070.06,537.96C1071.62,547.55 1072.52,552.33 1074.13,561.91C1074.97,566.94 1075.14,569.5 1076.17,574.49C1077.25,579.71 1077.72,582.39 1079.4,587.42C1080.31,590.15 1081.68,591.18 1082.63,593.89C1084.1,598.07 1084.16,604.67 1085.44,604.67C1086.74,604.67 1087.83,593.49 1089.1,593.89C1090.59,594.36 1090.67,601.82 1092.33,606.82C1092.82,608.28 1093.47,609.83 1094.49,610.06C1095.37,610.26 1096.38,607.35 1097.08,607.9C1098.54,609.07 1099.28,611.64 1099.88,614.37C1101.26,620.69 1101.28,624.06 1102.03,630.54C1103.44,642.6 1103.76,648.67 1105.27,660.72C1106.35,669.37 1106.9,679.42 1108.5,682.27C1109.32,683.73 1110.11,671.97 1111.3,671.49C1112.27,671.11 1112.38,676.98 1113.89,680.12C1114.45,681.29 1115.4,682 1116.48,682.27C1117.13,682.43 1117.81,680.68 1118.2,681.19C1119.79,683.27 1119.68,686.11 1121.44,688.74C1122.27,689.99 1123.59,691.26 1124.67,690.89C1126.17,690.39 1127.39,688.62 1127.9,686.58C1129.55,680 1129.46,676.26 1130.06,669.34C1131.18,656.43 1131.11,649.92 1132.21,637C1132.84,629.65 1132.54,624.92 1134.37,618.68C1134.69,617.59 1136.44,618.25 1137.6,618.68C1139.46,619.37 1140.8,622.28 1141.91,621.48C1143.82,620.12 1144.01,616.62 1145.15,613.29C1146.6,609.04 1147.09,606.82 1148.38,602.51C1149.67,598.2 1150.46,596.08 1151.61,591.74C1152.85,587.08 1153.19,584.67 1154.36,579.99C1155.14,576.85 1154.96,574.43 1156.49,572.19C1157.09,571.3 1158.67,571.61 1159.68,572.19C1161.15,573.03 1162.2,576.81 1162.7,575.73C1164.33,572.2 1164.18,566.7 1165,560.65C1166.16,552.15 1166.26,547.81 1167.67,539.36C1168.39,535.04 1168.7,532.61 1170.33,528.72C1170.83,527.5 1172.2,526.09 1172.99,526.59C1174.47,527.51 1175.35,529.8 1176,532.26C1177.84,539.17 1177.76,542.94 1179.2,550.01C1180.1,554.44 1180.79,561.01 1181.86,561.01C1182.92,561.01 1183.59,554.44 1184.52,550.01C1185.71,544.36 1185.77,541.36 1187.18,535.81C1187.54,534.41 1188.59,531.74 1188.96,532.62C1190.37,536 1190.47,540.94 1191.62,546.46C1192.95,552.86 1193.67,556.06 1195.17,562.43C1196.51,568.12 1197.57,576.24 1198.72,576.62C1199.7,576.95 1200.07,569.2 1200.49,564.2C1201.49,552.17 1201.22,546.07 1202.26,534.04C1202.64,529.74 1203.33,523.39 1204.04,523.39C1204.75,523.39 1205.25,529.76 1205.81,534.04C1207.02,543.24 1207.15,547.92 1208.47,557.1C1209.28,562.68 1210.07,570.94 1211.14,570.94C1212.2,570.94 1213.25,562.71 1213.8,557.1C1215.38,540.85 1214.98,532.57 1216.46,516.3C1217.11,509.15 1217.57,505.51 1219.12,498.55C1219.7,495.93 1220.36,494.58 1221.78,492.34C1222.84,490.68 1224.75,487.73 1225.33,488.79C1226.88,491.63 1226.66,496.75 1227.1,502.1C1228.22,515.42 1228.41,533.41 1229.23,535.46C1229.83,536.96 1230.13,520.77 1230.65,510.97C1231.41,496.78 1231.23,489.6 1232.43,475.49C1232.65,472.92 1233.28,471.68 1234.2,469.28C1234.91,467.42 1235.59,466.61 1236.51,464.84" fill="none" stroke="#0098db" stroke-width="3"/>
<path d="M692.98,559.52C694.27,560.81 695.18,563.25 696.21,562.75C697.86,561.95 697.94,557.43 699.66,556.28C700.53,555.7 702.04,559.33 702.68,558.44C704.8,555.45 705.27,551.4 706.56,546.58C708.38,539.76 708.07,535.76 710.44,529.34C711.09,527.56 712.45,526.72 714.1,526.1C715.21,525.69 716.76,525.71 717.33,526.75C719.35,530.45 719.4,533.44 720.57,537.96C722.68,546.12 723.79,558.44 725.53,558.44C727.24,558.44 727.28,546.03 729.19,537.96C730.04,534.39 731.21,528.64 732.42,529.34C734.23,530.37 734.95,537.12 736.74,542.27C739.43,550.05 741.75,562.09 743.63,561.67C745.63,561.23 745.13,548.71 746.44,540.12C747.29,534.48 747.41,528.5 749.02,526.1C749.73,525.05 751.52,529.12 752.26,531.49C754.19,537.74 753.85,544.02 755.7,547.66C756.27,548.77 757.36,543.44 758.29,543.35C759.08,543.27 759.63,545.59 760,547.25C761.34,553.19 760.99,560.74 762.59,562.33C763.57,563.32 764.94,557.17 766.47,553.71C767.79,550.71 769.09,544.69 769.7,546.17C771.24,549.87 770.87,558.47 771.86,566.65C772.59,572.7 772.88,581.37 774.01,581.74C775.03,582.06 776.51,566.6 777.25,568.37C778.66,571.77 778.57,584.15 779.4,594.67C780.29,605.88 780.38,611.52 781.56,622.69C782.36,630.32 782.22,635.97 784.36,641.66C784.81,642.86 786.75,639.52 788.02,639.94C789.94,640.56 790.68,642.46 792.33,644.25C793.7,645.73 794.38,648.43 795.57,648.13C797.14,647.74 798.04,642.02 799.23,642.52C800.89,643.23 801.14,650.77 802.68,651.15C803.98,651.46 805.48,647.21 806.35,644.25C807.81,639.28 807.73,636.5 808.5,631.31C809.37,625.47 809.81,615.08 810.44,616.66C811.53,619.39 811.42,631.99 812.81,642.09C813.66,648.2 814.04,651.45 816.05,657.18C817.06,660.07 818.26,661.45 820.36,663.65C821.71,665.07 823.07,666.59 824.67,666.24C826.95,665.73 827.79,661.82 830.06,661.49C831.93,661.22 833.59,665.44 835.02,664.73C837.04,663.72 837.68,660.36 838.68,657.18C840.26,652.17 840.01,649.28 841.48,644.25C841.9,642.81 843.06,640.11 843.42,641.02C844.79,644.42 844.68,649.46 845.79,655.03C846.66,659.37 846.76,661.75 848.38,665.81C849.52,668.65 850.5,670.29 852.69,672.27C854.12,673.56 855.58,674.18 857.43,674C859.89,673.75 861.23,672.59 863.47,671.19C865.8,669.75 867.45,669.1 868.86,666.88C870.47,664.36 870.52,662.43 871.02,659.34C872.67,649.07 872.7,643.78 874.25,633.47C875.55,624.81 876.17,620.42 878.13,611.91C878.75,609.21 879.21,606.95 880.72,605.45C881.37,604.8 883.01,607.37 883.52,606.53C885.6,603.05 885.8,599.43 887.18,594.67C888.56,589.95 888.39,586.86 890.42,582.81C890.98,581.69 892.86,580.95 893.65,581.74C895.88,583.96 896.91,591.93 897.96,590.36C900.36,586.76 900.14,577.32 902.27,568.8C903.59,563.52 904.67,560.97 906.58,555.87C907.52,553.38 908.14,549.48 909.39,549.83C911.16,550.34 912.12,554.81 914.13,558.02C916.43,561.71 917.91,566.58 920.16,567.08C921.79,567.44 922.59,563.02 923.83,560.18C924.25,559.23 923.9,558.56 924.31,557.6C925.82,554.08 926.36,552 928.62,548.98C930.24,546.82 932.29,546.77 934.01,544.67C936.17,542.03 936.14,539.5 938.32,537.12C939.15,536.22 940.88,537.42 941.56,536.48C943.04,534.41 943.27,532.43 943.71,529.58C945.17,520.18 944.66,515.2 946.3,505.87C946.81,502.95 948.22,498.59 949.1,498.97C950.2,499.45 950.8,504.34 951.26,508.02C952.53,518.31 951.96,523.64 953.41,533.89C954.28,540.02 955.52,542.97 957.08,548.98C958.54,554.61 959.42,562.52 960.96,562.99C962.26,563.39 962.26,555.46 964.19,551.14C964.84,549.68 966.27,548.16 967.42,548.55C969.29,549.19 969.97,553.63 971.74,553.72C973.42,553.81 974.82,551.17 976.05,548.98C977.58,546.26 977,543.85 978.63,541.44C979.33,540.4 981.2,539.63 981.87,540.36C983.18,541.79 983.27,544.17 983.59,546.82C984.83,557.11 984.46,562.4 985.75,572.69C986.62,579.65 986.84,583.66 988.98,589.94C989.43,591.25 990.86,591.58 992.21,591.66C993.88,591.76 995.22,589.74 996.53,590.37C998.24,591.2 998.22,593.56 999.76,595.33C1001.07,596.84 1002.22,598.76 1003.64,598.56C1005.23,598.33 1006.6,596.33 1007.3,594.25C1008.93,589.43 1008.97,586.53 1009.46,581.31C1010.43,571.01 1010.06,565.76 1010.97,555.45C1011.35,551.1 1011.56,545.41 1012.69,544.67C1013.54,544.11 1014.07,549.67 1015.93,552.21C1017.09,553.81 1018.59,555.02 1020.24,555.02C1021.61,555.02 1022.86,553.74 1023.47,552.21C1025.19,547.88 1024.16,543.2 1026.06,540.36C1026.75,539.32 1028.3,541.87 1029.94,542.51C1031.58,543.16 1033.31,542.34 1034.25,543.59C1035.9,545.79 1035.83,548.05 1036.4,551.14C1037.99,559.7 1037.67,564.25 1039.64,572.69C1040.69,577.19 1042.54,579.06 1043.95,583.47C1045.56,588.54 1045.94,591.22 1047.18,596.4C1048.52,602 1048.3,605.27 1050.42,610.42C1051.31,612.6 1053.73,612.58 1054.73,614.73C1056.74,619.05 1056.04,622.11 1057.96,626.58C1059.87,631.02 1061.93,632.75 1064.31,637C1066.19,640.37 1066.9,642.18 1068.62,645.63C1069.92,648.21 1069.92,650.26 1071.86,652.09C1073.37,653.53 1075.65,652.4 1077.25,653.82C1079.53,655.85 1079.86,657.94 1081.56,660.72C1083.13,663.29 1084.6,668.61 1085.44,667.18C1087.62,663.44 1087.59,655.53 1089.1,647.78C1090.78,639.15 1091.21,634.7 1093.41,626.23C1094.23,623.06 1094.89,620.14 1096.65,618.68C1097.48,617.99 1099.26,619.49 1099.88,620.84C1101.84,625.09 1101.45,628.1 1103.11,632.69C1104.04,635.25 1104.93,638.22 1106.35,638.73C1107.34,639.08 1108.36,636.57 1109.15,634.85C1110.34,632.25 1110.65,627.05 1111.3,627.95C1112.54,629.64 1112.71,636 1113.89,641.31C1115.04,646.52 1115.37,649.24 1117.12,654.25C1118.39,657.87 1119.39,659.63 1121.44,662.87C1123.1,665.5 1124.79,669.31 1126.39,668.91C1128.24,668.45 1128.7,664.03 1130.06,660.72C1131.46,657.31 1131.24,654.91 1133.29,652.09C1134.69,650.17 1137.24,650.75 1138.68,648.86C1140.52,646.44 1140.86,644.45 1141.48,641.31C1142.84,634.54 1142.17,630.76 1143.64,624.07C1144.06,622.14 1145.19,621.48 1146.23,619.76C1147.52,617.6 1148.72,616.73 1149.46,614.37C1150.88,609.84 1150.5,607.2 1151.61,602.51C1152.66,598.14 1153.07,595.64 1154.85,591.74C1155.23,590.9 1156.41,590.18 1157,590.66C1158.56,591.9 1159.06,593.83 1160.24,596.05C1161.81,599 1162.02,602.12 1163.9,603.59C1164.78,604.27 1165.84,601.44 1167.14,601.44C1168.43,601.44 1169.76,604.44 1170.37,603.59C1171.92,601.42 1171.48,597.72 1172.52,593.89C1173.2,591.42 1173.77,587.27 1174.68,587.86C1176.19,588.82 1176.42,595.17 1178.56,597.77C1179.26,598.62 1181.29,597.65 1181.79,596.48C1183.45,592.65 1182.88,589.69 1183.95,585.27C1184.34,583.66 1184.94,580.74 1185.46,581.39C1186.66,582.9 1186.54,587.4 1188.26,590.66C1188.95,591.97 1190.51,591.66 1191.49,592.81C1193.09,594.68 1194.05,595.81 1194.73,598.2C1196.63,604.87 1196.34,608.64 1197.96,615.45C1198.5,617.7 1199.66,621.97 1200.12,620.84C1201.39,617.66 1201.3,611.12 1202.27,604.67C1202.86,600.77 1203.19,594 1204,594.97C1205.35,596.59 1206.13,604.68 1207.66,611.14C1208.89,616.32 1209.51,624.47 1210.89,624.07C1212.53,623.6 1213.4,614.99 1215.21,608.98C1217.28,602.06 1218.25,598.57 1220.59,591.74C1222.39,586.5 1223.97,579.28 1225.55,578.8C1226.81,578.42 1226.87,585.26 1227.71,589.58C1228.34,592.85 1228.77,599.08 1229.22,597.77C1230.24,594.77 1230.64,586.4 1231.37,578.8C1232.37,568.47 1231.84,563.05 1233.53,552.93C1234,550.12 1235.47,549.05 1236.76,546.47" fill="none" stroke="#22154a" stroke-width="3"/>
<text x="1575.5" y="192.7" text-anchor="middle" font-size="12" font-weight="bold" fill="#666666" textLength="302.8" lengthAdjust="spacing">Casos TAR simptomàtics a URGELL a tota la població.</text>
<rect x="1410.6" y="216.5" width="40" height="12" fill="#555555" stroke="#555555" stroke-width="3"/>
<text x="1456.4" y="226" text-anchor="start" font-size="12" fill="#666666" textLength="154.6" lengthAdjust="spacing">Mitjana dels 7 dies anteriors</text>
<rect x="1622.1" y="216.5" width="40" height="12" fill="#0098db"/>
<text x="1668" y="226" text-anchor="start" font-size="12" fill="#666666" textLength="70" lengthAdjust="spacing">Casos diaris</text>
<text x="1312" y="242.2" text-anchor="end" font-size="12" fill="#666666">18</text>
<text x="1312" y="294.53" text-anchor="end" font-size="12" fill="#666666">16</text>
<text x="1312" y="346.87" text-anchor="end" font-size="12" fill="#666666">14</text>
<text x="1312" y="399.2" text-anchor="end" font-size="12" fill="#666666">12</text>
<text x="1312" y="451.53" text-anchor="end" font-size="12" fill="#666666">10</text>
<text x="1312" y="503.87" text-anchor="end" font-size="12" fill="#666666">8</text>
<text x="1312" y="556.2" text-anchor="end" font-size="12" fill="#666666">6</text>
<text x="1312" y="608.53" text-anchor="end" font-size="12" fill="#666666">4</text>
<text x="1312" y="660.87" text-anchor="end" font-size="12" fill="#666666">2</text>
<text x="1312" y="713.2" text-anchor="end" font-size="12" fill="#666666">0</text>
<text transform="translate(1321,720.5) rotate(-50)" text-anchor="end" font-size="12" fill="#666666" dy="4.3">02/11/2020</text>
<text transform="translate(1339.38,720.5) rotate(-50)" text-anchor="end" font-size="12" fill="#666666" dy="4.3">07/11/2020</text>
<text transform="translate(1357.76,720.5) rotate(-50)" text-anchor="end" font-size="12" fill="#666666" dy="4.3">12/11/2020</text>
<text transform="translate(1376.14,720.5) rotate(-50)" text-anchor="end" font-size="12" fill="#666666" dy="4.3">17/11/2020</text>
<text transform="translate(1394.51,720.5) rotate(-50)" text-anchor="end" font-size="12" fill="#666666" dy="4.3">22/11/2020</text>
<text transform="translate(1412.89,720.5) rotate(-50)" text-anchor="end" font-size="12" fill="#666666" dy="4.3">27/11/2020</text>
<text transform="translate(1431.27,720.5) rotate(-50)" text-anchor="end" font-size="12" fill="#666666" dy="4.3">02/12/2020</text>
<text transform="translate(1449.65,720.5) rotate(-50)" text-anchor="end" font-size="12" fill="#666666" dy="4.3">07/12/2020</text>
<text transform="translate(1468.03,720.5) rotate(-50)" text-anchor="end" font-size="12" fill="#666666" dy="4.3">12/12/2020</text>
<text transform="translate(1486.41,720.5) rotate(-50)" text-anchor="end" font-size="12" fill="#666666" dy="4.3">17/12/2020</text>
<text transform="translate(1504.78,720.5) rotate(-50)" text-anchor="end" font-size="12" fill="#666666" dy="4.3">22/12/2020</text>
<text transform="translate(1523.16,720.5) rotate(-50)" text-anchor="end" font-size="12" fill="#666666" dy="4.3">27/12/2020</text>
<text transform="translate(1541.54,720.5) rotate(-50)" text-anchor="end" font-size="12" fill="#666666" dy="4.3">01/01/2021</text>
<text transform="translate(1559.92,720.5) rotate(-50)" text-anchor="end" font-size="12" fill="#666666" dy="4.3">06/01/2021</text>
<text transform="translate(1578.3,720.5) rotate(-50)" text-anchor="end" font-size="12" fill="#666666" dy="4.3">11/01/2021</text>
<text transform="translate(1596.68,720.5) rotate(-50)" text-anchor="end" font-size="12" fill="#666666" dy="4.3">16/01/2021</text>
<text transform="translate(1615.05,720.5) rotate(-50)" text-anchor="end" font-size="12" fill="#666666" dy="4.3">21/01/2021</text>
<text transform="translate(1633.43,720.5) rotate(-50)" text-anchor="end" font-size="12" fill="#666666" dy="4.3">26/01/2021</text>
<text transform="translate(1651.81,720.5) rotate(-50)" text-anchor="end" font-size="12" fill="#666666" dy="4.3">31/01/2021</text>
<text transform="translate(1670.19,720.5) rotate(-50)" text-anchor="end" font-size="12" fill="#666666" dy="4.3">05/02/2021</text>
<text transform="translate(1688.57,720.5) rotate(-50)" text-anchor="end" font-size="12" fill="#666666" dy="4.3">10/02/2021</text>
<text transform="translate(1706.95,720.5) rotate(-50)" text-anchor="end" font-size="12" fill="#666666" dy="4.3">15/02/2021</text>
<text transform="translate(1725.32,720.5) rotate(-50)" text-anchor="end" font-size="12" fill="#666666" dy="4.3">20/02/2021</text>
<text transform="translate(1743.7,720.5) rotate(-50)" text-anchor="end" font-size="12" fill="#666666" dy="4.3">25/02/2021</text>
<text transform="translate(1762.08,720.5) rotate(-50)" text-anchor="end" font-size="12" fill="#666666" dy="4.3">02/03/2021</text>
<text transform="translate(1780.46,720.5) rotate(-50)" text-anchor="end" font-size="12" fill="#666666" dy="4.3">07/03/2021</text>
<text transform="translate(1798.84,720.5) rotate(-50)" text-anchor="end" font-size="12" fill="#666666" dy="4.3">12/03/2021</text>
<text transform="translate(1817.22,720.5) rotate(-50)" text-anchor="end" font-size="12" fill="#666666" dy="4.3">17/03/2021</text>
<text transform="translate(1835.59,720.5) rotate(-50)" text-anchor="end" font-size="12" fill="#666666" dy="4.3">22/03/2021</text>
<text transform="translate(1853.97,720.5) rotate(-50)" text-anchor="end" font-size="12" fill="#666666" dy="4.3">27/03/2021</text>
<g fill="none" stroke-width="1" shape-rendering="crispEdges"><path d="M1312.5,238.5H1866.5" stroke="rgba(0,0,0,0.1)"/><path d="M1312.5,290.83H1866.5" stroke="rgba(0,0,0,0.1)"/><path d="M1312.5,343.17H1866.5" stroke="rgba(0,0,0,0.1)"/><path d="M1312.5,395.5H1866.5" stroke="rgba(0,0,0,0.1)"/><path d="M1312.5,447.83H1866.5" stroke="rgba(0,0,0,0.1)"/><path d="M1312.5,500.17H1866.5" stroke="rgba(0,0,0,0.1)"/><path d="M1312.5,552.5H1866.5" stroke="rgba(0,0,0,0.1)"/><path d="M1312.5,604.83H1866.5" stroke="rgba(0,0,0,0.1)"/><path d="M1312.5,657.17H1866.5" stroke="rgba(0,0,0,0.1)"/><path d="M1312.5,709.5H1866.5" stroke="rgba(0,0,0,0.25)"/><path d="M1322.5,238.5V719.5" stroke="rgba(0,0,0,0.25)"/><path d="M1340.88,238.5V719.5" stroke="rgba(0,0,0,0.1)"/><path d="M1359.26,238.5V719.5" stroke="rgba(0,0,0,0.1)"/><path d="M1377.64,238.5V719.5" stroke="rgba(0,0,0,0.1)"/><path d="M1396.01,238.5V719.5" stroke="rgba(0,0,0,0.1)"/><path d="M1414.39,238.5V719.5" stroke="rgba(0,0,0,0.1)"/><path d="M1432.77,238.5V719.5" stroke="rgba(0,0,0,0.1)"/><path d="M1451.15,238.5V719.5" stroke="rgba(0,0,0,0.1)"/><path d="M1469.53,238.5V719.5" stroke="rgba(0,0,0,0.1)"/><path d="M1487.91,238.5V719.5" stroke="rgba(0,0,0,0.1)"/><path d="M1506.28,238.5V719.5" stroke="rgba(0,0,0,0.1)"/><path d="M1524.66,238.5V719.5" stroke="rgba(0,0,0,0.1)"/><path d="M1543.04,238.5V719.5" stroke="rgba(0,0,0,0.1)"/><path d="M1561.42,238.5V719.5" stroke="rgba(0,0,0,0.1)"/><path d="M1579.8,238.5V719.5" stroke="rgba(0,0,0,0.1)"/><path d="M1598.18,238.5V719.5" stroke="rgba(0,0,0,0.1)"/><path d="M1616.55,238.5V719.5" stroke="rgba(0,0,0,0.1)"/><path d="M1634.93,238.5V719.5" stroke="rgba(0,0,0,0.1)"/><path d="M1653.31,238.5V719.5" stroke="rgba(0,0,0,0.1)"/><path d="M1671.69,238.5V719.5" stroke="rgba(0,0,0,0.1)"/><path d="M1690.07,238.5V719.5" stroke="rgba(0,0,0,0.1)"/><path d="M1708.45,238.5V719.5" stroke="rgba(0,0,0,0.1)"/><path d="M1726.82,238.5V719.5" stroke="rgba(0,0,0,0.1)"/><path d="M1745.2,238.5V719.5" stroke="rgba(0,0,0,0.1)"/><path d="M1763.58,238.5V719.5" stroke="rgba(0,0,0,0.1)"/><path d="M1781.96,238.5V719.5" stroke="rgba(0,0,0,0.1)"/><path d="M1800.34,238.5V719.5" stroke="rgba(0,0,0,0.1)"/><path d="M1818.72,238.5V719.5" stroke="rgba(0,0,0,0.1)"/><path d="M1837.09,238.5V719.5" stroke="rgba(0,0,0,0.1)"/><path d="M1855.47,238.5V719.5" stroke="rgba(0,0,0,0.1)"/><path d="M1322.5,238.5V709.5" stroke="rgba(0,0,0,0.1)"/><path d="M1322.5,709.5H1866.5" stroke="rgba(0,0,0,0.1)"/></g>
<clipPath id="c3"><rect x="1322.5" y="236.5" width="544" height="475"/></clipPath>
<path clip-path="url(#c3)" d="M1321.05,709.5v-261.67h2.9v261.67zM1324.73,709.5v-209.33h2.9v209.33zM1328.4,709.5v-183.17h2.9v183.17zM1332.08,709.5v-78.5h2.9v78.5zM1335.75,709.5v-52.33h2.9v52.33zM1339.43,709.5v-235.5h2.9v235.5zM1343.1,709.5v-183.17h2.9v183.17zM1346.78,709.5v-287.83h2.9v287.83zM1350.46,709.5v-287.83h2.9v287.83zM1354.13,709.5v-130.83h2.9v130.83zM1357.81,709.5v-235.5h2.9v235.5zM1361.48,709.5v-130.83h2.9v130.83zM1365.16,709.5v-209.33h2.9v209.33zM1372.51,709.5v-183.17h2.9v183.17zM1376.19,709.5v-130.83h2.9v130.83zM1379.86,709.5v-52.33h2.9v52.33zM1383.54,709.5v-157h2.9v157zM1387.21,709.5v-26.17h2.9v26.17zM1390.89,709.5v-130.83h2.9v130.83zM1394.56,709.5v-52.33h2.9v52.33zM1398.24,709.5v-78.5h2.9v78.5zM1401.91,709.5v-78.5h2.9v78.5zM1405.59,709.5v-78.5h2.9v78.5zM1409.27,709.5v-209.33h2.9v209.33zM1412.94,709.5v-52.33h2.9v52.33zM1416.62,709.5v-52.33h2.9v52.33zM1420.29,709.5v-104.67h2.9v104.67zM1423.97,709.5v-209.33h2.9v209.33zM1427.64,709.5v-104.67h2.9v104.67zM1431.32,709.5v-26.17h2.9v26.17zM1435,709.5v-52.33h2.9v52.33zM1438.67,709.5v-26.17h2.9v26.17zM1442.35,709.5v-78.5h2.9v78.5zM1446.02,709.5v-78.5h2.9v78.5zM1449.7,709.5v-78.5h2.9v78.5zM1453.37,709.5v-26.17h2.9v26.17zM1457.05,709.5v-52.33h2.9v52.33zM1460.73,709.5v-183.17h2.9v183.17zM1464.4,709.5v-26.17h2.9v26.17zM1471.75,709.5v-52.33h2.9v52.33zM1475.43,709.5v-52.33h2.9v52.33zM1479.1,709.5v-52.33h2.9v52.33zM1482.78,709.5v-78.5h2.9v78.5zM1486.46,709.5v-104.67h2.9v104.67zM1490.13,709.5v-104.67h2.9v104.67zM1493.81,709.5v-52.33h2.9v52.33zM1497.48,709.5v-130.83h2.9v130.83zM1501.16,709.5v-209.33h2.9v209.33zM1504.83,709.5v-130.83h2.9v130.83zM1508.51,709.5v-157h2.9v157zM1512.19,709.5v-157h2.9v157zM1515.86,709.5v-78.5h2.9v78.5zM1519.54,709.5v-78.5h2.9v78.5zM1523.21,709.5v-78.5h2.9v78.5zM1526.89,709.5v-183.17h2.9v183.17zM1530.56,709.5v-183.17h2.9v183.17zM1534.24,709.5v-78.5h2.9v78.5zM1537.91,709.5v-52.33h2.9v52.33zM1541.59,709.5v-52.33h2.9v52.33zM1545.27,709.5v-130.83h2.9v130.83zM1548.94,709.5v-104.67h2.9v104.67zM1552.62,709.5v-209.33h2.9v209.33zM1556.29,709.5v-444.83h2.9v444.83zM1559.97,709.5v-183.17h2.9v183.17zM1563.64,709.5v-157h2.9v157zM1567.32,709.5v-157h2.9v157zM1571,709.5v-26.17h2.9v26.17zM1574.67,709.5v-104.67h2.9v104.67zM1578.35,709.5v-235.5h2.9v235.5zM1582.02,709.5v-261.67h2.9v261.67zM1585.7,709.5v-78.5h2.9v78.5zM1589.37,709.5v-104.67h2.9v104.67zM1593.05,709.5v-392.5h2.9v392.5zM1596.73,709.5v-26.17h2.9v26.17zM1600.4,709.5v-261.67h2.9v261.67zM1604.08,709.5v-366.33h2.9v366.33zM1607.75,709.5v-130.83h2.9v130.83zM1611.43,709.5v-314h2.9v314zM1615.1,709.5v-130.83h2.9v130.83zM1618.78,709.5v-261.67h2.9v261.67zM1622.46,709.5v-157h2.9v157zM1626.13,709.5v-261.67h2.9v261.67zM1629.81,709.5v-314h2.9v314zM1633.48,709.5v-314h2.9v314zM1637.16,709.5v-418.67h2.9v418.67zM1640.83,709.5v-209.33h2.9v209.33zM1644.51,709.5v-183.17h2.9v183.17zM1648.19,709.5v-104.67h2.9v104.67zM1651.86,709.5v-78.5h2.9v78.5zM1655.54,709.5v-340.17h2.9v340.17zM1659.21,709.5v-183.17h2.9v183.17zM1662.89,709.5v-235.5h2.9v235.5zM1666.56,709.5v-78.5h2.9v78.5zM1670.24,709.5v-104.67h2.9v104.67zM1673.91,709.5v-52.33h2.9v52.33zM1677.59,709.5v-104.67h2.9v104.67zM1681.27,709.5v-157h2.9v157zM1684.94,709.5v-78.5h2.9v78.5zM1688.62,709.5v-26.17h2.9v26.17zM1695.97,709.5v-78.5h2.9v78.5zM1699.64,709.5v-26.17h2.9v26.17zM1703.32,709.5v-26.17h2.9v26.17zM1707,709.5v-78.5h2.9v78.5zM1710.67,709.5v-104.67h2.9v104.67zM1718.02,709.5v-26.17h2.9v26.17zM1721.7,709.5v-26.17h2.9v26.17zM1725.37,709.5v-26.17h2.9v26.17zM1740.08,709.5v-26.17h2.9v26.17zM1743.75,709.5v-26.17h2.9v26.17zM1747.43,709.5v-26.17h2.9v26.17zM1758.46,709.5v-52.33h2.9v52.33zM1762.13,709.5v-130.83h2.9v130.83zM1765.81,709.5v-26.17h2.9v26.17zM1773.16,709.5v-52.33h2.9v52.33zM1776.83,709.5v-52.33h2.9v52.33zM1780.51,709.5v-26.17h2.9v26.17zM1784.19,709.5v-130.83h2.9v130.83zM1787.86,709.5v-104.67h2.9v104.67zM1791.54,709.5v-26.17h2.9v26.17zM1795.21,709.5v-78.5h2.9v78.5zM1798.89,709.5v-104.67h2.9v104.67zM1802.56,709.5v-52.33h2.9v52.33zM1809.91,709.5v-52.33h2.9v52.33zM1813.59,709.5v-104.67h2.9v104.67zM1817.27,709.5v-52.33h2.9v52.33zM1820.94,709.5v-52.33h2.9v52.33zM1824.62,709.5v-52.33h2.9v52.33zM1831.97,709.5v-183.17h2.9v183.17zM1835.64,709.5v-26.17h2.9v26.17zM1839.32,709.5v-78.5h2.9v78.5zM1843,709.5v-130.83h2.9v130.83zM1846.67,709.5v-157h2.9v157zM1850.35,709.5v-78.5h2.9v78.5zM1854.02,709.5v-78.5h2.9v78.5zM1857.7,709.5v-52.33h2.9v52.33zM1861.37,709.5v-235.5h2.9v235.5zM1865.05,709.5v-78.5h2.9v78.5z" fill="#0098db"/>
<path d="M1344.55,559.98C1346.02,551 1345.84,546.05 1348.23,537.55C1348.78,535.59 1351,535.65 1351.91,533.81C1353.94,529.67 1353.86,523.47 1355.58,522.6C1356.8,521.98 1358.47,531.68 1359.26,530.07C1361.41,525.69 1361,516.5 1362.93,507.64C1363.94,503.04 1364.57,498.5 1366.61,496.43C1367.51,495.51 1369.8,498.19 1370.28,500.17C1372.74,510.15 1372.1,515.94 1373.96,526.33C1375.04,532.39 1376.45,535.25 1377.64,541.29C1379.39,550.2 1379.38,554.86 1381.31,563.71C1382.32,568.31 1383.52,570.44 1384.99,574.93C1386.46,579.41 1387.39,581.6 1388.66,586.14C1390.33,592.07 1390.67,595.17 1392.34,601.1C1393.61,605.64 1394.29,611.43 1396.01,612.31C1397.23,612.93 1398.66,603.78 1399.69,604.83C1401.6,606.77 1401.46,613.96 1403.36,619.79C1404.4,622.94 1405.24,626.34 1407.04,627.26C1408.18,627.84 1409.58,625.26 1410.72,623.52C1412.52,620.77 1412.59,618.8 1414.39,616.05C1415.53,614.32 1417.16,611.39 1418.07,612.31C1420.1,614.38 1420.02,622.65 1421.74,623.52C1422.96,624.14 1424.52,619.23 1425.42,616.05C1427.46,608.77 1426.79,604.39 1429.09,597.36C1429.73,595.42 1431.63,593.04 1432.77,593.62C1434.58,594.54 1435.66,597.89 1436.45,601.1C1438.6,609.85 1437.73,615.02 1440.12,623.52C1440.67,625.49 1442.33,627.26 1443.8,627.26C1445.27,627.26 1446,623.52 1447.47,623.52C1448.94,623.52 1450.51,625.33 1451.15,627.26C1453.45,634.3 1453.01,638.57 1454.82,645.95C1455.95,650.53 1456.46,655.1 1458.5,657.17C1459.4,658.09 1461.54,655.36 1462.18,653.43C1464.48,646.39 1463.39,641 1465.85,634.74C1466.33,633.53 1468.83,633.67 1469.53,634.74C1471.77,638.16 1471.17,641.81 1473.2,645.95C1474.11,647.79 1475.41,648.2 1476.88,649.69C1478.35,651.19 1479.08,653.43 1480.55,653.43C1482.02,653.43 1482.76,651.19 1484.23,649.69C1485.7,648.2 1487,645.03 1487.91,645.95C1489.94,648.02 1490.11,657.17 1491.58,657.17C1493.05,657.17 1493.53,650.33 1495.26,645.95C1496.47,642.86 1497.72,641.57 1498.93,638.48C1500.66,634.09 1501.6,631.86 1502.61,627.26C1504.54,618.4 1504.35,613.69 1506.28,604.83C1507.29,600.23 1508.49,598.1 1509.96,593.62C1511.43,589.13 1511.91,586.79 1513.64,582.4C1514.85,579.31 1515.51,575.85 1517.31,574.93C1518.45,574.35 1519.52,578.67 1520.99,578.67C1522.46,578.67 1523.53,574.35 1524.66,574.93C1526.47,575.85 1526.53,579.65 1528.34,582.4C1529.47,584.14 1530.88,586.72 1532.01,586.14C1533.82,585.23 1534.47,578.05 1535.69,578.67C1537.41,579.54 1538.09,585.34 1539.36,589.88C1541.03,595.81 1540.85,599.26 1543.04,604.83C1543.79,606.73 1545.58,609.15 1546.72,608.57C1548.52,607.65 1548.59,603.85 1550.39,601.1C1551.53,599.36 1552.6,598.85 1554.07,597.36C1555.54,595.86 1557.38,595.63 1557.74,593.62C1560.32,579.19 1559.33,571.09 1561.42,556.24C1562.27,550.15 1563.62,547.27 1565.09,541.29C1566.56,535.3 1567.3,532.31 1568.77,526.33C1570.24,520.35 1570.98,511.38 1572.45,511.38C1573.92,511.38 1573.75,521.5 1576.12,526.33C1576.69,527.49 1578.59,526.95 1579.8,526.33C1581.53,525.45 1582.99,521.11 1583.47,522.6C1585.93,530.08 1585.29,538.37 1587.15,548.76C1588.23,554.82 1588.92,557.89 1590.82,563.71C1591.86,566.86 1593.92,573.26 1594.5,571.19C1596.86,562.79 1595.52,549.69 1598.18,537.55C1598.46,536.23 1601.44,538.8 1601.85,537.55C1604.38,529.83 1603.93,524.07 1605.53,515.12C1606.87,507.62 1607.73,496.43 1609.2,496.43C1610.67,496.43 1611.82,517.27 1612.88,515.12C1614.76,511.29 1614.01,494.42 1616.55,481.48C1616.95,479.47 1619.6,476.45 1620.23,477.74C1622.54,482.43 1622.44,496.43 1623.91,496.43C1625.38,496.43 1625.12,484 1627.58,477.74C1628.06,476.53 1630.36,476.82 1631.26,477.74C1633.3,479.81 1634.23,487.01 1634.93,485.21C1637.17,479.53 1636.75,469.44 1638.61,459.05C1639.69,452.99 1640.62,450.02 1642.28,444.1C1643.56,439.55 1644.49,432.88 1645.96,432.88C1647.43,432.88 1647.91,439.71 1649.64,444.1C1650.85,447.19 1652.61,448.35 1653.31,451.57C1655.55,461.8 1654.53,470.25 1656.99,477.74C1657.47,479.22 1660.03,472.71 1660.66,474C1662.97,478.69 1663.11,485.17 1664.34,492.69C1666.05,503.12 1666.3,508.43 1668.01,518.86C1669.25,526.37 1669.87,530.16 1671.69,537.55C1672.81,542.12 1673.64,544.38 1675.36,548.76C1676.58,551.86 1677.24,555.32 1679.04,556.24C1680.18,556.82 1682.23,551.01 1682.72,552.5C1685.17,559.99 1684.53,568.27 1686.39,578.67C1687.47,584.72 1689.07,587.55 1690.07,593.62C1692.01,605.49 1691.63,611.71 1693.74,623.52C1694.57,628.15 1695.38,630.6 1697.42,634.74C1698.32,636.58 1699.62,636.98 1701.09,638.48C1702.56,639.97 1703.87,640.37 1704.77,642.21C1706.81,646.36 1706.98,648.94 1708.45,653.43C1709.92,657.91 1710.09,662.57 1712.12,664.64C1713.03,665.56 1714.33,660.9 1715.8,660.9C1717.27,660.9 1718,664.64 1719.47,664.64C1720.94,664.64 1722.01,660.33 1723.15,660.9C1724.95,661.82 1724.78,666.31 1726.82,668.38C1727.72,669.3 1729.29,667.76 1730.5,668.38C1732.23,669.26 1733.27,670.28 1734.18,672.12C1736.21,676.26 1736.58,678.79 1737.85,683.33C1739.52,689.26 1739.33,694.94 1741.53,698.29C1742.27,699.43 1743.47,695.43 1745.2,694.55C1746.41,693.93 1747.41,694.55 1748.88,694.55C1750.35,694.55 1751.34,693.93 1752.55,694.55C1754.28,695.43 1754.5,697.41 1756.23,698.29C1757.44,698.9 1759.01,699.2 1759.91,698.29C1761.95,696.21 1762.69,693.99 1763.58,690.81C1765.63,683.53 1764.79,678.39 1767.26,672.12C1767.73,670.91 1769.72,671.5 1770.93,672.12C1772.66,673 1773.14,675.86 1774.61,675.86C1776.08,675.86 1777.15,673.85 1778.28,672.12C1780.09,669.37 1780.15,667.4 1781.96,664.64C1783.1,662.91 1784.73,662.74 1785.64,660.9C1787.67,656.76 1787.27,651.76 1789.31,649.69C1790.22,648.77 1791.26,652.55 1792.99,653.43C1794.2,654.04 1795.96,654.49 1796.66,653.43C1798.9,650.01 1798.61,646.6 1800.34,642.21C1801.55,639.12 1801.97,636.81 1804.01,634.74C1804.91,633.82 1806.48,634.12 1807.69,634.74C1809.42,635.62 1810.46,636.64 1811.36,638.48C1813.4,642.62 1812.8,646.27 1815.04,649.69C1815.74,650.76 1817.5,650.31 1818.72,649.69C1820.44,648.81 1820.92,645.95 1822.39,645.95C1823.86,645.95 1824.93,647.96 1826.07,649.69C1827.87,652.44 1828.27,654.18 1829.74,657.17C1831.21,660.16 1832.71,666.43 1833.42,664.64C1835.65,658.96 1834.64,645.96 1837.09,638.48C1837.58,636.99 1839.3,640.72 1840.77,642.21C1842.24,643.71 1843.54,646.87 1844.45,645.95C1846.48,643.88 1846.85,639.28 1848.12,634.74C1849.79,628.81 1849.6,625.36 1851.8,619.79C1852.54,617.89 1854.57,617.89 1855.47,616.05C1857.51,611.91 1858.02,603.69 1859.15,604.83C1860.96,606.68 1861.69,625.26 1862.82,623.52C1864.63,620.78 1865.03,605.58 1866.5,593.62" fill="none" stroke="#555555" stroke-width="3"/>
<g><path d="M1325,447.5l5,-5v-9.5a6,6 0 0 1 6,-6h105a6,6 0 0 1 6,6v30a6,6 0 0 1 -6,6h-105a6,6 0 0 1 -6,-6v-10.5z" fill="rgba(0,0,0,0.8)"/>
<text x="1335.6" y="441.6" text-anchor="start" font-size="12" font-weight="bold" fill="#ffffff" textLength="61" lengthAdjust="spacing">02/11/2020</text>
<rect x="1336" y="451" width="12" height="12" fill="#ffffff"/><rect x="1337" y="452" width="10" height="10" fill="#0098db"/>
<text x="1350" y="460.6" text-anchor="start" font-size="12" fill="#ffffff" textLength="90.4" lengthAdjust="spacing">Casos diaris: 10</text>
</g>
<path d="M1294.5,244.5v16.2l3.7,-3.6l2.6,6l2.4,-1l-2.6,-5.9h5.2z" fill="#ffffff" stroke="#000000" stroke-width="1" stroke-linejoin="miter"/></svg>
</body></html>
